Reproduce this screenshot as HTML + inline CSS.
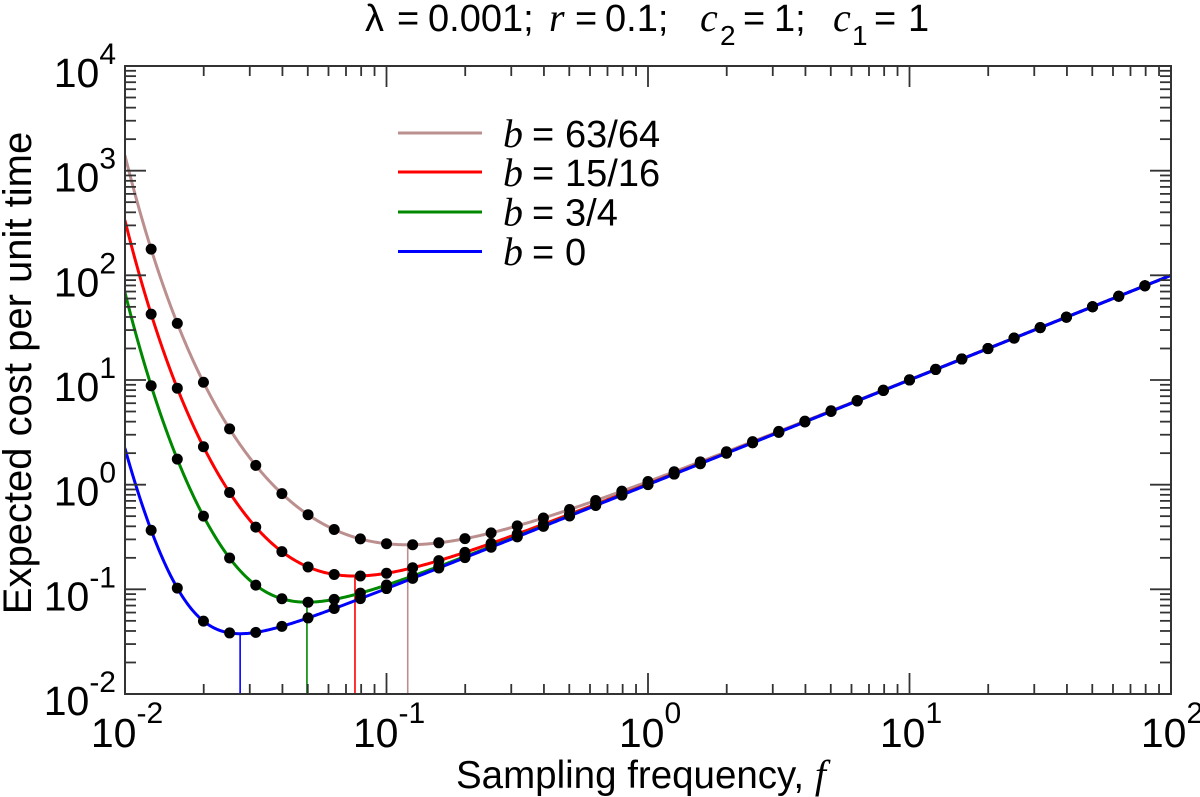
<!DOCTYPE html>
<html>
<head>
<meta charset="utf-8">
<style>
  html,body{margin:0;padding:0;background:#fff;}
  svg{display:block;}
</style>
</head>
<body>
<svg id="s" width="1200" height="797" viewBox="0 0 1200 797" xmlns="http://www.w3.org/2000/svg">
  <rect x="0" y="0" width="1200" height="797" fill="#fff"/>
  <defs>
    <clipPath id="pc"><rect x="125" y="66" width="1046" height="628"/></clipPath>
  </defs>

  <g id="vlines" clip-path="url(#pc)"></g>
  <g id="curves" clip-path="url(#pc)" fill="none" stroke-width="3" stroke-linejoin="round" stroke-linecap="round"></g>
  <g id="dots" fill="#000"></g>
  <g id="ticks" stroke="#333" stroke-width="1.8"></g>
  <rect x="125" y="66" width="1046" height="628" fill="none" stroke="#333" stroke-width="2"/>

  <!-- Title -->
  <g font-family="'Liberation Sans', Arial, sans-serif" font-size="38" fill="#000">
    <text x="365" y="31">λ</text>
    <text x="397" y="31">=</text>
    <text x="428" y="31">0.001;</text>
    <text x="549" y="31" font-family="'Liberation Serif', serif" font-style="italic" font-size="40">r</text>
    <text x="575" y="31">=</text>
    <text x="605" y="31">0.1;</text>
    <text x="700" y="31" font-family="'Liberation Serif', serif" font-style="italic" font-size="40">c</text>
    <text x="720" y="45" font-size="28">2</text>
    <text x="743" y="31">=</text>
    <text x="774" y="31">1;</text>
    <text x="833" y="31" font-family="'Liberation Serif', serif" font-style="italic" font-size="40">c</text>
    <text x="852" y="45" font-size="28">1</text>
    <text x="874" y="31">=</text>
    <text x="908" y="31">1</text>
  </g>

  <!-- Legend -->
  <g stroke-width="3">
    <line x1="398" y1="133" x2="482" y2="133" stroke="#bc8f8f"/>
    <line x1="398" y1="172" x2="482" y2="172" stroke="#ff0000"/>
    <line x1="398" y1="212" x2="482" y2="212" stroke="#008800"/>
    <line x1="398" y1="251.5" x2="482" y2="251.5" stroke="#0000ff"/>
  </g>
  <g font-family="'Liberation Sans', Arial, sans-serif" font-size="38" fill="#000">
    <text x="503" y="147" font-family="'Liberation Serif', serif" font-style="italic" font-size="40">b</text>
    <text x="532" y="147">=</text>
    <text x="565" y="147">63/64</text>
    <text x="503" y="186" font-family="'Liberation Serif', serif" font-style="italic" font-size="40">b</text>
    <text x="532" y="186">=</text>
    <text x="565" y="186">15/16</text>
    <text x="503" y="225.5" font-family="'Liberation Serif', serif" font-style="italic" font-size="40">b</text>
    <text x="532" y="225.5">=</text>
    <text x="565" y="225.5">3/4</text>
    <text x="503" y="265" font-family="'Liberation Serif', serif" font-style="italic" font-size="40">b</text>
    <text x="532" y="265">=</text>
    <text x="565" y="265">0</text>
  </g>

  <!-- X tick labels -->
  <g font-family="'Liberation Sans', Arial, sans-serif" font-size="41" fill="#000" text-anchor="middle">
    <text x="127" y="747">10<tspan dy="-24" font-size="30">-2</tspan></text>
    <text x="389" y="747">10<tspan dy="-24" font-size="30">-1</tspan></text>
    <text x="650" y="747">10<tspan dy="-24" font-size="30">0</tspan></text>
    <text x="911" y="747">10<tspan dy="-24" font-size="30">1</tspan></text>
    <text x="1172" y="747">10<tspan dy="-24" font-size="30">2</tspan></text>
  </g>

  <!-- Y tick labels -->
  <g font-family="'Liberation Sans', Arial, sans-serif" font-size="41" fill="#000" text-anchor="end">
    <text x="116" y="87">10<tspan dy="-23" font-size="30">4</tspan></text>
    <text x="116" y="191.7">10<tspan dy="-23" font-size="30">3</tspan></text>
    <text x="116" y="296.3">10<tspan dy="-23" font-size="30">2</tspan></text>
    <text x="116" y="401">10<tspan dy="-23" font-size="30">1</tspan></text>
    <text x="116" y="505.7">10<tspan dy="-23" font-size="30">0</tspan></text>
    <text x="116" y="610.3">10<tspan dy="-23" font-size="30">-1</tspan></text>
    <text x="116" y="715">10<tspan dy="-23" font-size="30">-2</tspan></text>
  </g>

  <!-- Axis labels -->
  <text x="456" y="788" font-family="'Liberation Sans', Arial, sans-serif" font-size="38.5" fill="#000">Sampling frequency, <tspan font-family="'Liberation Serif', serif" font-style="italic" font-size="40">f</tspan></text>
  <text transform="translate(31,373) rotate(-90)" text-anchor="middle" font-family="'Liberation Sans', Arial, sans-serif" font-size="40" fill="#000">Expected cost per unit time</text>
</svg>

<script>
(function(){
  var NS = "http://www.w3.org/2000/svg";
  var L = 0.001, R = 0.1;
  function log10(v){ return Math.log(v)/Math.LN10; }
  function X(f){ return 125 + (log10(f)+2)*261.5; }
  function Y(v){ return 66 + (4 - log10(v))*104.6667; }
  function g(f,b){
    var x = R/f, e = Math.exp(x);
    var v = f + L*(f/R)*(e-1);
    if (b > 0) v += L*b/(1-b)*e;
    return v;
  }
  function el(name, attrs, parent){
    var n = document.createElementNS(NS, name);
    for (var k in attrs) n.setAttribute(k, attrs[k]);
    parent.appendChild(n);
    return n;
  }
  var series = [
    {b:63/64, c:"#bc8f8f"},
    {b:15/16, c:"#ff0000"},
    {b:3/4,   c:"#008800"},
    {b:0,     c:"#0000ff"}
  ];
  var curves = document.getElementById("curves");
  var vlines = document.getElementById("vlines");
  var dots = document.getElementById("dots");
  var ticks = document.getElementById("ticks");

  series.forEach(function(s){
    var best = Infinity, bf = 0;
    for (var i=0;i<=40000;i++){
      var lf = -2 + 2*i/40000;
      var f = Math.pow(10, lf);
      var v = g(f, s.b);
      if (v < best){ best = v; bf = f; }
    }
    var x = X(bf);
    el("line", {x1:x.toFixed(2), y1:Y(best).toFixed(2), x2:x.toFixed(2), y2:694, stroke:s.c, "stroke-width":1.6}, vlines);
  });

  series.forEach(function(s){
    var d = "";
    var N = 800;
    for (var i=0;i<=N;i++){
      var lf = -2 + 4*i/N;
      var f = Math.pow(10, lf);
      var px = X(f), py = Y(g(f, s.b));
      d += (i===0 ? "M" : "L") + px.toFixed(2) + "," + py.toFixed(2);
    }
    el("path", {d:d, stroke:s.c}, curves);
  });

  series.forEach(function(s){
    for (var k=1;k<=39;k++){
      var f = 0.01*Math.pow(10, k/10);
      el("circle", {cx:X(f).toFixed(2), cy:Y(g(f,s.b)).toFixed(2), r:5.5}, dots);
    }
  });

  function tl(x1,y1,x2,y2){ el("line",{x1:x1,y1:y1,x2:x2,y2:y2},ticks); }
  for (var d=-2; d<=1; d++){
    for (var m=1; m<=9; m++){
      var f = m*Math.pow(10,d);
      var x = X(f).toFixed(2);
      var len = (m===1) ? 21 : 10;
      tl(x, 694, x, 694-len);
      tl(x, 66, x, 66+len);
    }
  }
  for (var d2=-2; d2<=3; d2++){
    for (var m2=1; m2<=9; m2++){
      var v = m2*Math.pow(10,d2);
      var y = Y(v).toFixed(2);
      var len2 = (m2===1) ? 21 : 11;
      tl(125, y, 125+len2, y);
      tl(1171, y, 1171-len2, y);
    }
  }
})();
</script>
</body>
</html>
